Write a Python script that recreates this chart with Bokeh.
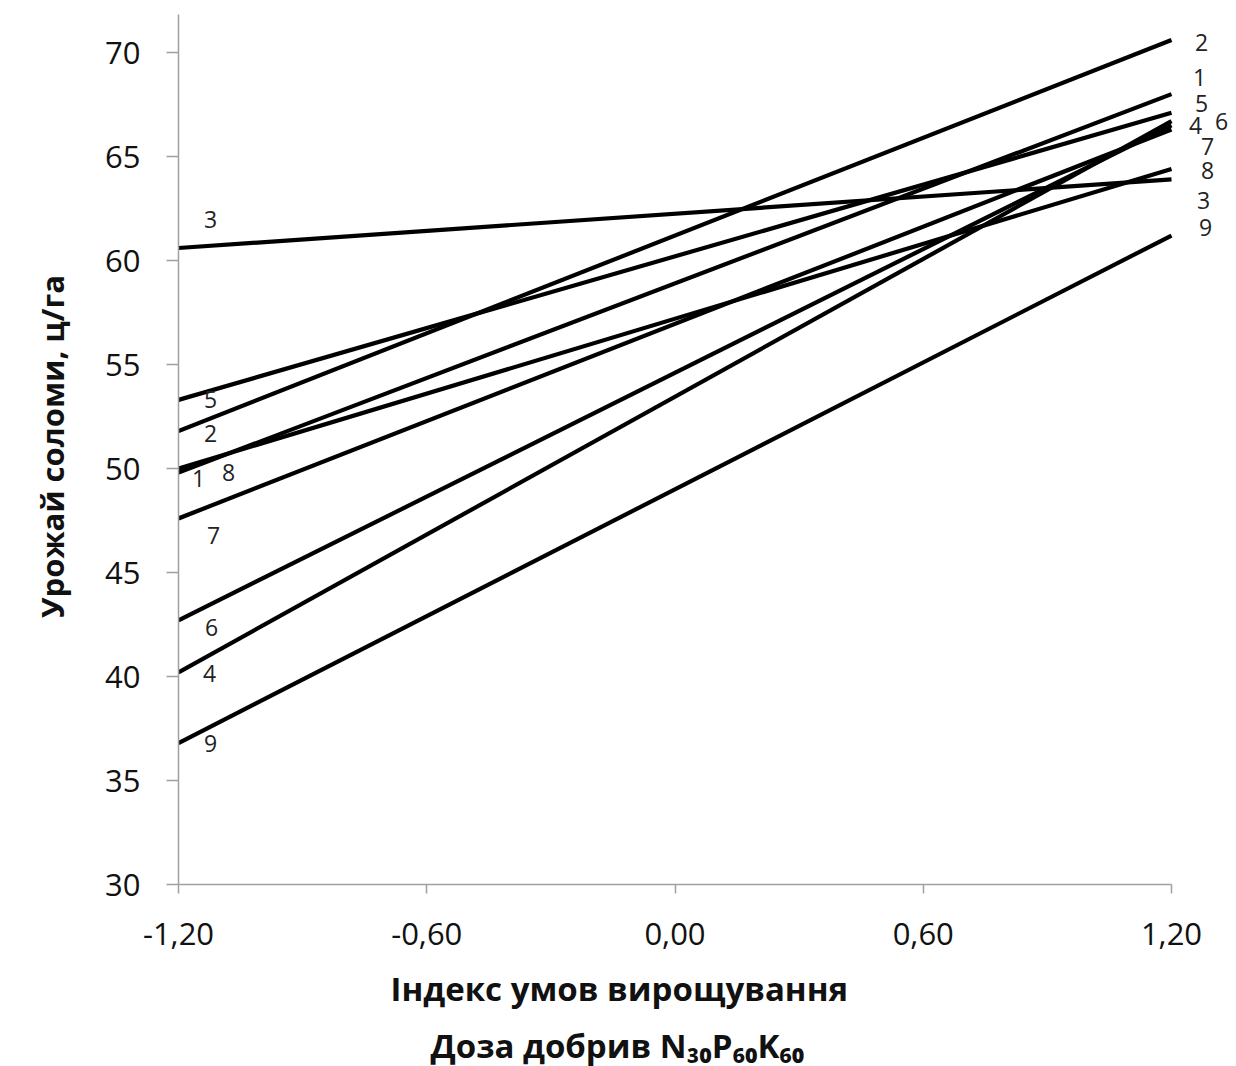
from bokeh.plotting import figure
from bokeh.models import Range1d, FixedTicker, CustomJSTickFormatter, ColumnDataSource, Title
from bokeh.core.properties import value
from bokeh.embed import file_html
from bokeh.resources import INLINE

# ---- data ----
series = ["1", "2", "3", "4", "5", "6", "7", "8", "9"]
x_points = [-1.2, 1.2]
y_left = [49.8, 51.8, 60.6, 40.2, 53.3, 42.7, 47.6, 50.0, 36.8]
y_right = [68.0, 70.6, 63.9, 66.7, 67.1, 66.5, 66.3, 64.4, 61.2]
x_ticks = [-1.2, -0.6, 0.0, 0.6, 1.2]
y_ticks = [30, 35, 40, 45, 50, 55, 60, 65, 70]
x_title_1 = "Індекс умов вирощування"
x_title_2 = "Доза добрив N₃₀P₆₀K₆₀"
y_title = "Урожай соломи, ц/га"

# label offsets in screen pixels (style only)
left_dx = [20, 32, 32, 31, 32, 33, 35, 50, 32]
left_dy = [6, 2, -29, 1, 0, 7, 17, 4, 0]
right_dx = [28, 30, 32, 24, 30, 50, 36, 36, 34]
right_dy = [-17, 2, 21, 4, -9, -4, 17, 2, -8]

FONT = "Open Sans"

p = figure(width=1228, height=1066, output_backend="svg", toolbar_location=None,
           x_range=Range1d(-1.2, 1.2 + 57 / 413.75),
           y_range=Range1d(30, 70 + 44 / 20.8),
           min_border_left=178, min_border_right=0, min_border_top=8,
           min_border_bottom=182)
p.outline_line_color = None
p.grid.visible = False
p.background_fill_color = "white"
p.border_fill_color = "white"

for i, s in enumerate(series):
    p.line(x_points, [y_left[i], y_right[i]], line_color="black", line_width=4.2)

lab_x = [x_points[0]] * len(series) + [x_points[1]] * len(series)
lab_y = y_left + y_right
src = ColumnDataSource(dict(x=lab_x, y=lab_y, text=series + series,
                            xo=left_dx + right_dx, yo=left_dy + right_dy))
p.text(x="x", y="y", text="text", x_offset="xo", y_offset="yo", source=src,
       text_align="center", text_baseline="middle", text_font=value(FONT),
       text_font_size="23px", text_color="#222222")

# axes
for ax in (p.xaxis[0], p.yaxis[0]):
    ax.axis_line_color = "#a0a0a0"
    ax.axis_line_width = 1.5
    ax.major_tick_line_color = "#a0a0a0"
    ax.major_tick_line_width = 1.5
    ax.minor_tick_line_color = None
    ax.major_tick_in = 0
    ax.major_label_text_font = FONT
    ax.major_label_text_font_size = "31px"
    ax.major_label_text_color = "#111111"
    ax.axis_label_text_font = FONT
    ax.axis_label_text_font_style = "bold"
    ax.axis_label_text_color = "#111111"

p.xaxis.bounds = (-1.2, 1.2)
p.xaxis.ticker = FixedTicker(ticks=x_ticks)
p.xaxis.formatter = CustomJSTickFormatter(code="return tick.toFixed(2).replace('.', ',');")
p.xaxis.major_tick_out = 9
p.xaxis.major_label_standoff = 29

p.yaxis.bounds = (30, 71.83)
p.yaxis.ticker = FixedTicker(ticks=y_ticks)
p.yaxis.major_tick_out = 12
p.yaxis.major_label_standoff = 26
p.yaxis.axis_label = y_title
p.yaxis.axis_label_standoff = 29
p.yaxis.axis_label_text_font_size = "31px"

t1 = Title(text=x_title_1, align="left", offset=212, standoff=32,
           text_font=FONT, text_font_style="bold", text_font_size="33px",
           text_color="#111111")
t2 = Title(text=x_title_2, align="left", offset=252, standoff=-12,
           text_font=FONT, text_font_style="bold", text_font_size="33px",
           text_color="#111111")
p.add_layout(t1, "below")
p.add_layout(t2, "below")

open("out.html", "w").write(file_html(p, INLINE))
